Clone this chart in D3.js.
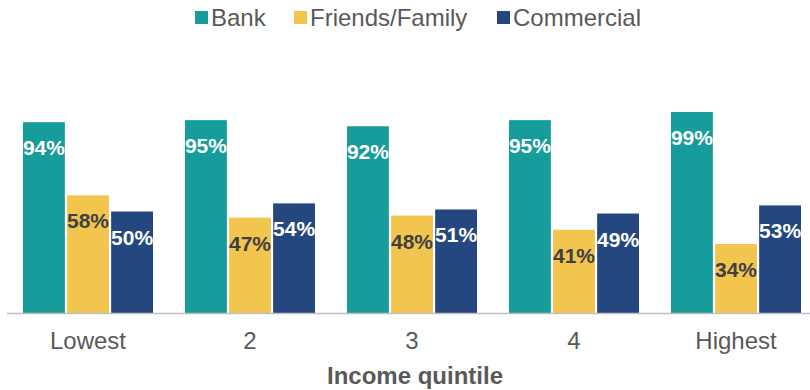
<!DOCTYPE html>
<html>
<head>
<meta charset="utf-8">
<style>
  body { margin: 0; background: #fff; }
  svg { display: block; font-family: "Liberation Sans", Arial, sans-serif; }
</style>
</head>
<body>
<svg width="810" height="390"></svg>
<script src="https://d3js.org/d3.v7.min.js"></script>
<script>
// chart values
var quintiles = ["Lowest", "2", "3", "4", "Highest"];
var series = ["Bank", "Friends/Family", "Commercial"];
var bank = [94, 95, 92, 95, 99];
var friends = [58, 47, 48, 41, 34];
var commercial = [50, 54, 51, 49, 53];

var colors = ["#179c9c", "#f2c54f", "#24477f"];
var labelColors = ["#ffffff", "#404040", "#ffffff"];

var svg = d3.select("svg"),
    width = +svg.attr("width"),
    height = +svg.attr("height");

var baseY = 313;

var x0 = d3.scaleBand()
    .domain(quintiles)
    .range([7, 817]);

var x1 = d3.scaleBand()
    .domain(series)
    .range([16, 146])
    .paddingInner(0.05);

var y = d3.scaleLinear()
    .domain([0, 100])
    .range([baseY, baseY - 203]);

var rows = quintiles.map(function(q, i) {
  return { q: q, vals: [bank[i], friends[i], commercial[i]] };
});

var groups = svg.append("g")
  .selectAll("g")
  .data(rows)
  .enter().append("g")
    .attr("transform", function(d) { return "translate(" + x0(d.q) + ",0)"; });

groups.selectAll("rect")
  .data(function(d) { return d.vals.map(function(v, j) { return { s: series[j], v: v, j: j }; }); })
  .enter().append("rect")
    .attr("x", function(d) { return x1(d.s); })
    .attr("y", function(d) { return y(d.v); })
    .attr("width", x1.bandwidth())
    .attr("height", function(d) { return baseY - y(d.v); })
    .attr("fill", function(d) { return colors[d.j]; });

groups.selectAll("text")
  .data(function(d) { return d.vals.map(function(v, j) { return { s: series[j], v: v, j: j }; }); })
  .enter().append("text")
    .attr("x", function(d) { return x1(d.s) + x1.bandwidth() / 2; })
    .attr("y", function(d) { return y(d.v) + 33; })
    .attr("text-anchor", "middle")
    .attr("font-size", 21)
    .attr("font-weight", "bold")
    .attr("fill", function(d) { return labelColors[d.j]; })
    .text(function(d) { return d.v + "%"; });

// axis line
svg.append("line")
    .attr("x1", 7).attr("x2", width)
    .attr("y1", baseY + 0.5).attr("y2", baseY + 0.5)
    .attr("stroke", "#bfbfbf")
    .attr("stroke-width", 1.5);

var xAxis = svg.append("g")
    .attr("transform", "translate(0," + baseY + ")")
    .call(d3.axisBottom(x0).tickSize(0).tickPadding(19));
xAxis.select(".domain").remove();
xAxis.selectAll("text")
    .attr("font-size", 24)
    .attr("font-family", "Liberation Sans, Arial, sans-serif")
    .attr("fill", "#595959");

svg.append("text")
    .attr("x", 415)
    .attr("y", 384)
    .attr("text-anchor", "middle")
    .attr("font-size", 24)
    .attr("font-weight", "bold")
    .attr("fill", "#595959")
    .text("Income quintile");

// legend
var legendX = [195, 294, 497];
var legend = svg.append("g")
  .selectAll("g")
  .data(series)
  .enter().append("g")
    .attr("transform", function(d, i) { return "translate(" + legendX[i] + ",0)"; });

legend.append("rect")
    .attr("x", 0).attr("y", 11)
    .attr("width", 13).attr("height", 13)
    .attr("fill", function(d, i) { return colors[i]; });

legend.append("text")
    .attr("x", 16)
    .attr("y", 26)
    .attr("font-size", 24)
    .attr("fill", "#595959")
    .text(function(d) { return d; });
</script>
</body>
</html>
